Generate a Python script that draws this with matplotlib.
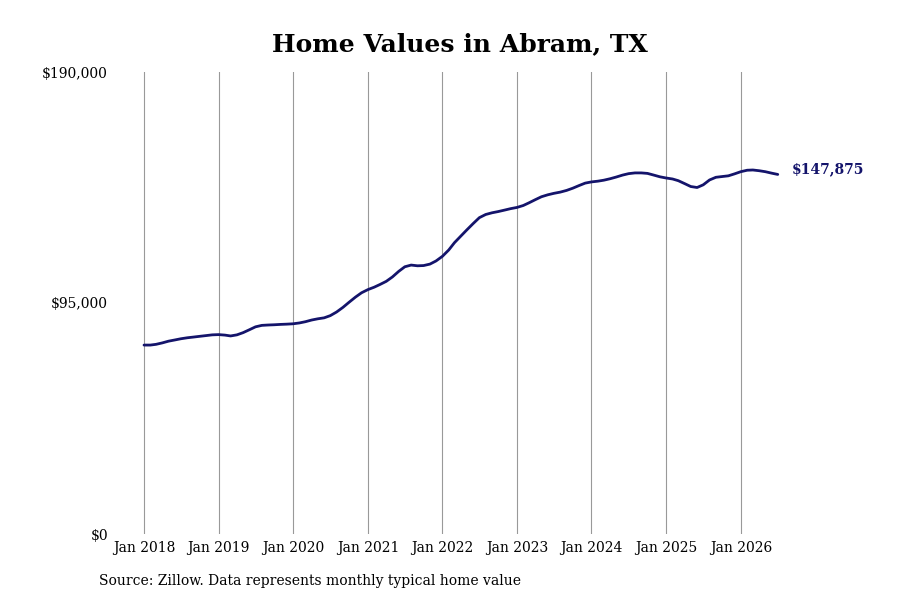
import numpy as np
import pandas as pd
import matplotlib
matplotlib.use("Agg")
import matplotlib.pyplot as plt
import matplotlib.dates as mdates

# monthly typical home value, Jan 2018 .. Jul 2026
months = pd.date_range("2018-01-01", "2026-07-01", freq="MS")
values = [
    77700, 77700, 78000, 78600, 79300, 79800, 80300, 80700, 81000, 81300, 81600, 81900,   # 2018
    82000, 81800, 81450, 81900, 82800, 84000, 85200, 85800, 85950, 86050, 86200, 86300,   # 2019
    86450, 86800, 87300, 88000, 88500, 88900, 89800, 91300, 93200, 95300, 97400, 99200,   # 2020
    100500, 101500, 102600, 103900, 105700, 108000, 109900, 110600, 110300, 110400, 111000, 112300,  # 2021
    114200, 116800, 119800, 122500, 125100, 127700, 130100, 131400, 132100, 132600, 133200, 133800,  # 2022
    134300, 135100, 136200, 137500, 138700, 139500, 140100, 140600, 141300, 142200, 143300, 144300,  # 2023
    144800, 145100, 145500, 146100, 146800, 147600, 148200, 148500, 148500, 148300, 147600, 146900,  # 2024
    146400, 146000, 145300, 144100, 142900, 142500, 143600, 145600, 146700, 147000, 147300, 148100,  # 2025
    149000, 149600, 149700, 149400, 149000, 148400, 147875,                                # 2026
]
y_ticks = [0, 95000, 190000]
y_labels = ["$0", "$95,000", "$190,000"]
x_ticks = pd.date_range("2018-01-01", "2026-01-01", freq="YS")
x_labels = [f"Jan {d.year}" for d in x_ticks]
last_label = "$147,875"

LINE = "#14146b"
plt.rcParams["font.family"] = ["DejaVu Serif"]

fig = plt.figure(figsize=(9, 6), dpi=100)
ax = fig.add_axes([115 / 900, 66 / 600, 685 / 900, 462 / 600])

ax.plot(months, values, color=LINE, linewidth=2.0, solid_capstyle="round", clip_on=False)
ax.annotate(last_label, xy=(months[-1], values[-1]), xytext=(14, 5),
            textcoords="offset pixels", va="center", ha="left",
            fontsize=10, fontweight="bold", color=LINE)

# pixel mapping: Jan 2018 at x=144, ~74.6 px per year
px_per_day = 74.6 / 365.25
x0 = pd.Timestamp("2018-01-01")
left = x0 - pd.Timedelta(days=(144 - 115) / px_per_day)
right = x0 + pd.Timedelta(days=(800 - 144) / px_per_day)
ax.set_xlim(left, right)
ax.set_ylim(0, 190000)

ax.set_xticks(x_ticks)
ax.set_xticklabels(x_labels, fontsize=10)
ax.set_yticks(y_ticks)
ax.set_yticklabels(y_labels, fontsize=10)
ax.tick_params(axis="both", length=0)
ax.tick_params(axis="x", pad=5)
ax.tick_params(axis="y", pad=5)

ax.grid(axis="x", color="#999999", linewidth=0.8)
ax.grid(axis="y", visible=False)
for s in ax.spines.values():
    s.set_visible(False)

fig.text(460 / 900, 1 - 44 / 600, "Home Values in Abram, TX", ha="center", va="center",
         fontsize=18, fontweight="bold")
fig.text(99 / 900, 1 - 581 / 600, "Source: Zillow. Data represents monthly typical home value",
         ha="left", va="center", fontsize=10)

fig.savefig("out.png", dpi=100)
